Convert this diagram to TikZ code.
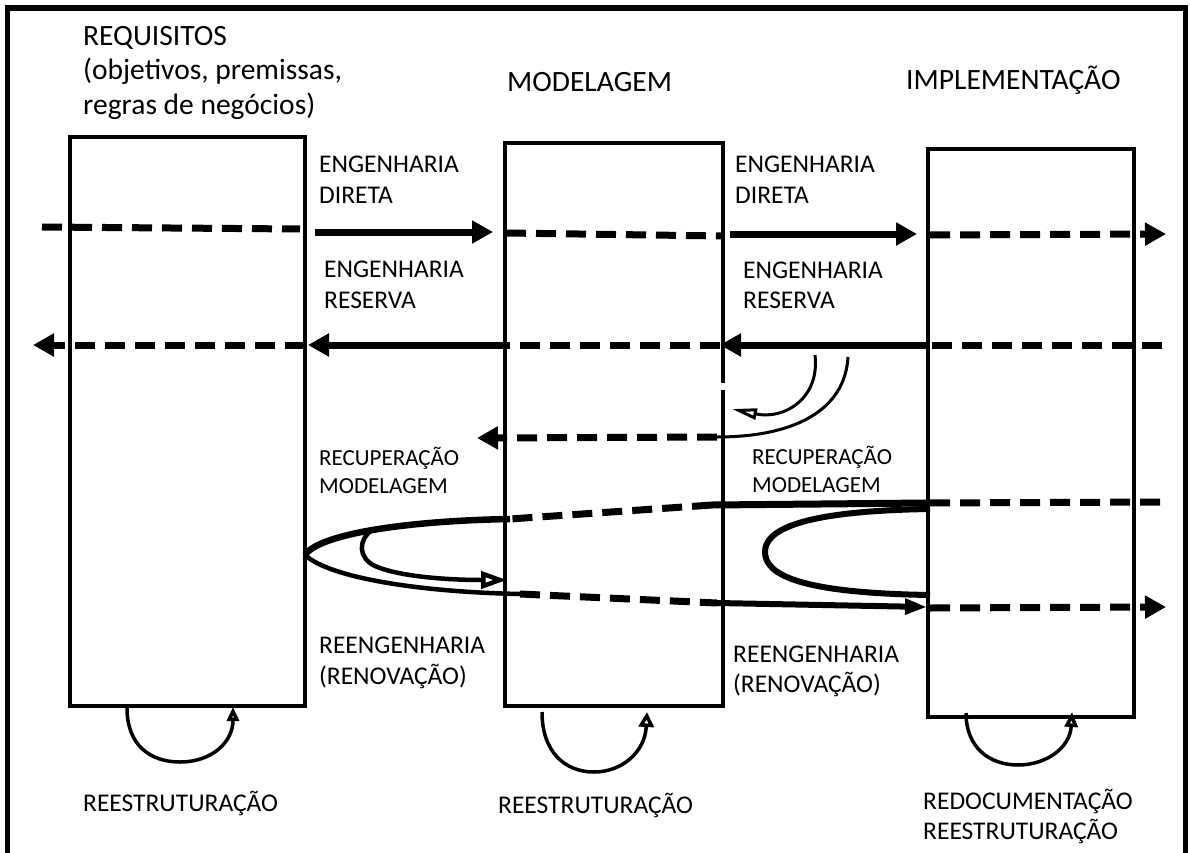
\documentclass[tikz,border=0pt]{standalone}
\usepackage{fontspec}
\setmainfont{Carlito}
\usetikzlibrary{arrows.meta}
\begin{document}
\begin{tikzpicture}[x=1pt,y=-1pt,
  stage/.style={draw, line width=3.5pt, inner sep=0pt, outer sep=0pt},
  heavy/.style={line width=7pt},
  dashline/.style={heavy, dash pattern=on 20pt off 10pt},
  bigtip/.style={-{Triangle[length=21pt,width=22pt]}},
  opentip/.style 2 args={-{Triangle[open,fill=white,length=#1,width=#2]}},
  lbl/.style={anchor=base west, inner sep=0pt, font=\fontsize{25.5}{31}\selectfont},
  head/.style={anchor=base west, inner sep=0pt, font=\fontsize{29.5}{35}\selectfont},
  sublbl/.style={anchor=base west, inner sep=0pt, font=\fontsize{23}{28}\selectfont},
  loop/.style={line width=3.5pt}
]
\useasboundingbox (0,0) rectangle (1190,853);

% outer frame (open at the bottom)
\draw[line width=5.5pt] (7.5,853) -- (7.5,8) -- (1185.5,8) -- (1185.5,853);

% the three stages
\node[stage, minimum width=235pt, minimum height=569pt] (req) at (187.5,421.5) {};
\node[stage, minimum width=218pt, minimum height=563pt] (mod) at (614,424.5) {};
\node[stage, minimum width=206pt, minimum height=568pt] (impl) at (1031,433) {};

% headings
\node[head] (treqA) at (83,46) {REQUISITOS};
\node[head] (treqB) at (83,80) {(objetivos, premissas,};
\node[head] (treqC) at (83,115) {regras de negócios)};
\node[head] (tmod) at (507,92) {MODELAGEM};
\node[head] (timpl) at (906,90) {IMPLEMENTAÇÃO};

% forward engineering line
\coordinate (a0) at (42,227);
\coordinate (a1) at (300,229);
\coordinate (a2) at (315,232);
\coordinate (a3) at (493,232);
\coordinate (a4) at (506,233);
\coordinate (a5) at (723,236);
\coordinate (a6) at (730,234);
\coordinate (a7) at (917,234);
\coordinate (a8) at (930,235);
\coordinate (a9) at (1166,234);
\draw[dashline] (a0) -- (a1);
\draw[heavy, bigtip] (a2) -- (a3);
\draw[dashline] (a4) -- (a5);
\draw[heavy, bigtip] (a6) -- (a7);
\draw[dashline, bigtip] (a8) -- (a9);

% reverse engineering line
\coordinate (b0) at (1162,345);
\coordinate (b1) at (928,345);
\coordinate (b2) at (720,345);
\coordinate (b3) at (507,345);
\coordinate (b4) at (308,345);
\coordinate (b5) at (305,345);
\coordinate (b6) at (33,345);
\draw[dashline] (b0) -- (b1);
\draw[heavy, bigtip] (b1) -- (b2);
\draw[dashline] (b2) -- (b3);
\draw[heavy, bigtip] (b3) -- (b4);
\draw[dashline, bigtip] (b5) -- (b6);

% design recovery arcs
\coordinate (r0) at (815,355);
\coordinate (r1) at (732,409);
\coordinate (r2) at (848,357);
\coordinate (r3) at (717,437);
\coordinate (r4) at (477,438);
\draw[line width=3pt, opentip={25pt}{11pt}] (r0) .. controls (820,398) and (785,420) .. (r1);
\draw[line width=3pt] (r2) .. controls (845,410) and (795,437) .. (r3);
\draw[dashline, bigtip] (r3) -- (r4);
\draw[white, line width=5pt] (723,383) -- (723,390);

% reengineering loops
\coordinate (c0) at (1160,502);
\coordinate (c1) at (928,503);
\coordinate (c2) at (712,505);
\coordinate (c3) at (510,519);
\coordinate (c4) at (305,555);
\coordinate (c5) at (520,594);
\coordinate (c6) at (717,603);
\coordinate (c7) at (927,607);
\coordinate (c8) at (930,608);
\coordinate (c9) at (1166,607);
\draw[dashline] (c0) -- (c1);
\draw[heavy] (c1) -- (c2);
\draw[dashline] (c2) -- (c3);
\draw[line width=6.5pt] (c3) .. controls (400,521) and (318,535) .. (c4);
\draw[line width=4.5pt] (c4) .. controls (330,578) and (420,592) .. (c5);
\draw[dashline] (c5) -- (c6);
\draw[line width=6pt, opentip={22pt}{15pt}] (c6) -- (c7);
\draw[dashline, bigtip] (c8) -- (c9);

\coordinate (e0) at (372,530);
\coordinate (e1) at (375,566);
\coordinate (e2) at (507,580);
\draw[line width=4.5pt, opentip={26pt}{17pt}] (e0) .. controls (358,540) and (358,558) .. (e1)
      .. controls (400,577) and (450,580) .. (e2);

\coordinate (f0) at (930,509);
\coordinate (f1) at (765,552);
\coordinate (f2) at (930,595);
\draw[line width=6pt] (f0) .. controls (800,511) and (765,530) .. (f1)
      .. controls (765,575) and (800,593) .. (f2);

% restructuring loops
\draw[loop, opentip={14pt}{12pt}] (127,708) .. controls (127,745) and (150,762) .. (180,762)
      .. controls (212,762) and (233,742) .. (233,707);
\draw[loop, opentip={15pt}{15pt}] (542,712) .. controls (542,752) and (565,772) .. (594,772)
      .. controls (622,772) and (645,752) .. (647,712);
\draw[loop, opentip={15pt}{13pt}] (966,713) .. controls (966,748) and (990,765) .. (1018,765)
      .. controls (1046,765) and (1070,748) .. (1072,712);

% labels
\node[lbl] (ldA) at (319,173) {ENGENHARIA};
\node[lbl] (ldB) at (319,204) {DIRETA};
\node[lbl] (ldC) at (735,173) {ENGENHARIA};
\node[lbl] (ldD) at (735,204) {DIRETA};
\node[lbl] (lrA) at (324,277) {ENGENHARIA};
\node[lbl] (lrB) at (324,308) {RESERVA};
\node[lbl] (lrC) at (743,278) {ENGENHARIA};
\node[lbl] (lrD) at (743,308) {RESERVA};
\node[sublbl] (lmA) at (319,465) {RECUPERAÇÃO};
\node[sublbl] (lmB) at (319,493) {MODELAGEM};
\node[sublbl] (lmC) at (752,464) {RECUPERAÇÃO};
\node[sublbl] (lmD) at (752,492) {MODELAGEM};
\node[lbl] (lnA) at (319,653) {REENGENHARIA};
\node[lbl] (lnB) at (319,684) {(RENOVAÇÃO)};
\node[lbl] (lnC) at (733,662) {REENGENHARIA};
\node[lbl] (lnD) at (733,692) {(RENOVAÇÃO)};
\node[lbl] (lsA) at (83,811) {REESTRUTURAÇÃO};
\node[lbl] (lsB) at (498,813) {REESTRUTURAÇÃO};
\node[lbl] (lsC) at (923,809) {REDOCUMENTAÇÃO};
\node[lbl] (lsD) at (923,839) {REESTRUTURAÇÃO};
\end{tikzpicture}
\end{document}
